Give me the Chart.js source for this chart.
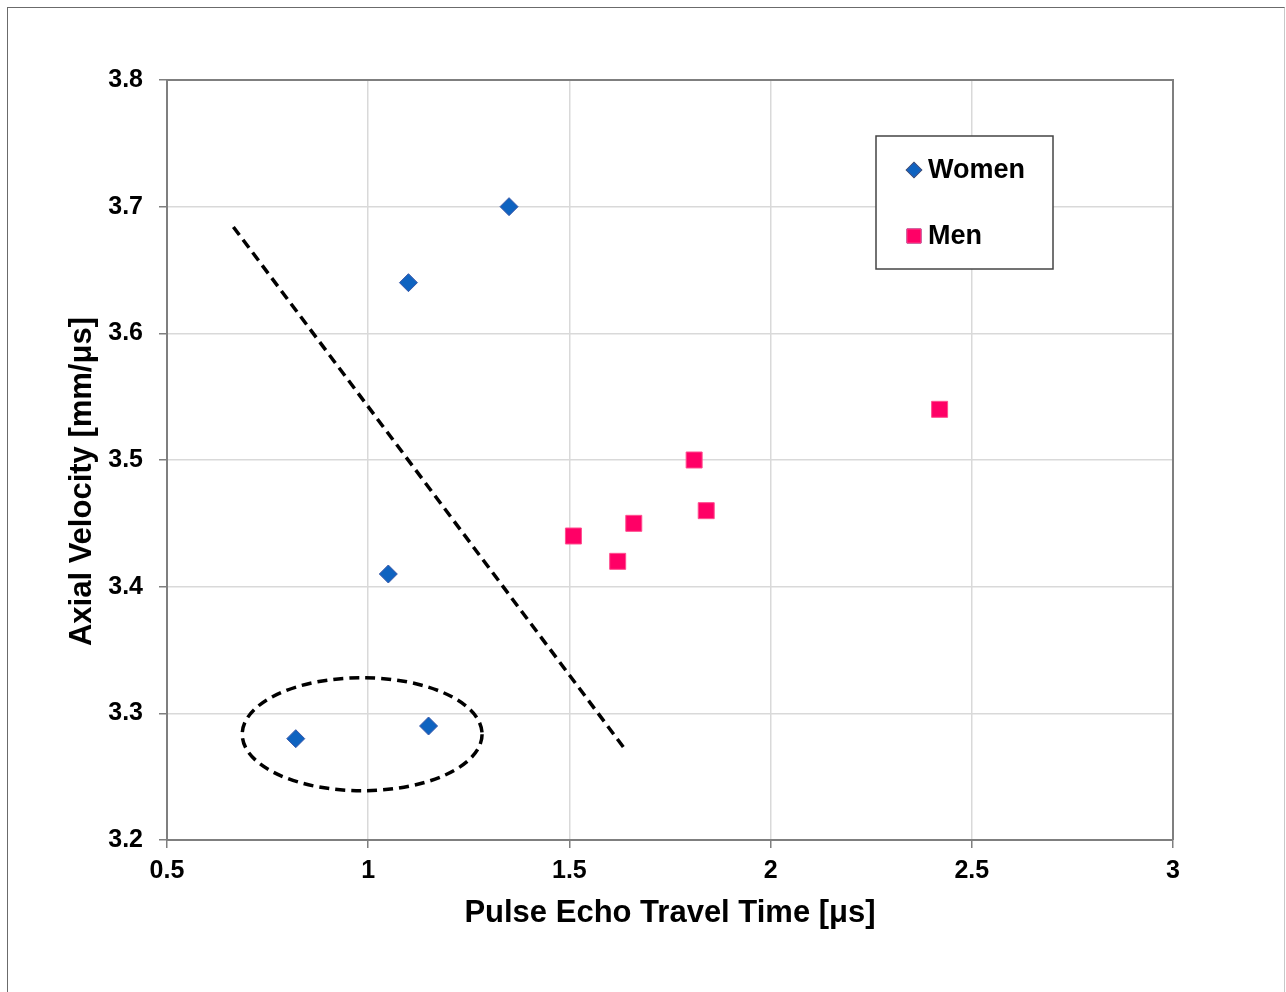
<!DOCTYPE html>
<html lang="en">
<head>
  <meta charset="UTF-8" />
  <title>Axial Velocity vs Pulse Echo Travel Time</title>
  <script src="https://cdn.jsdelivr.net/npm/chart.js"></script>
  <style>
    html, body {
      margin: 0;
      padding: 0;
      background: #fff;
      overflow: hidden;
    }
    #frame {
      position: absolute;
      left: 7px;
      top: 7px;
      width: 1276px;
      height: 1000px;
      border: 1.5px solid #6b6b6b;
      border-right-color: #c8c8c8;
    }
    #wrap {
      position: absolute;
      left: 0;
      top: 0;
      width: 1286px;
      height: 992px;
    }
  </style>
</head>
<body>
  <div id="frame"></div>
  <div id="wrap">
    <canvas id="scatterChart" width="1286" height="992"></canvas>
  </div>

  <script>
    // values
    const womenX = [0.82, 1.05, 1.10, 1.15, 1.35];
    const womenY = [3.28, 3.41, 3.64, 3.29, 3.70];
    const menX = [1.51, 1.62, 1.66, 1.81, 1.84, 2.42];
    const menY = [3.44, 3.42, 3.45, 3.50, 3.46, 3.54];

    // dashed separating line (two end points)
    const dividerX = [0.665, 1.635];
    const dividerY = [3.684, 3.273];

    // dashed ellipse round the two low women points: centre x, centre y, radius x, radius y
    const ellipse = [0.985, 3.2835, 0.298, 0.0446];

    const xTicks = ['0.5', '1', '1.5', '2', '2.5', '3'];
    const yTicks = ['3.2', '3.3', '3.4', '3.5', '3.6', '3.7', '3.8'];

    const seriesNames = ['Women', 'Men'];
    const womenColor = '#0f63c0';
    const menColor = '#ff0066';

    const FONT = '"Liberation Sans", Arial, sans-serif';

    const toPoints = (xs, ys) => xs.map((x, i) => ({ x: x, y: ys[i] }));

    // ellipse, plot border and legend box
    const extras = {
      id: 'extras',
      afterDatasetsDraw(chart) {
        const { ctx, chartArea, scales } = chart;
        const xs = scales.x, ys = scales.y;

        ctx.save();
        // ellipse
        const cx = xs.getPixelForValue(ellipse[0]);
        const cy = ys.getPixelForValue(ellipse[1]);
        const rx = Math.abs(xs.getPixelForValue(ellipse[0] + ellipse[2]) - cx);
        const ry = Math.abs(ys.getPixelForValue(ellipse[1] + ellipse[3]) - cy);
        ctx.beginPath();
        ctx.ellipse(cx, cy, rx, ry, 0, 0, Math.PI * 2);
        ctx.setLineDash([10, 6]);
        ctx.lineWidth = 3.5;
        ctx.strokeStyle = '#000';
        ctx.stroke();
        ctx.setLineDash([]);

        // top and right border of the plot area
        ctx.beginPath();
        ctx.moveTo(chartArea.left, chartArea.top);
        ctx.lineTo(chartArea.right, chartArea.top);
        ctx.lineTo(chartArea.right, chartArea.bottom);
        ctx.lineWidth = 2;
        ctx.strokeStyle = '#7f7f7f';
        ctx.stroke();

        // legend box
        const bx = 876, by = 136, bw = 177, bh = 133;
        ctx.fillStyle = '#fff';
        ctx.fillRect(bx, by, bw, bh);
        ctx.lineWidth = 1.5;
        ctx.strokeStyle = '#444';
        ctx.strokeRect(bx, by, bw, bh);

        const rows = [170, 236];
        const ds = chart.data.datasets;
        ctx.font = 'bold 27px ' + FONT;
        ctx.textBaseline = 'middle';
        ctx.textAlign = 'left';
        for (let i = 0; i < 2; i++) {
          Chart.helpers.drawPoint(ctx, {
            pointStyle: ds[i].pointStyle,
            radius: i === 0 ? 7.5 : 10,
            borderWidth: 1
          }, 914, rows[i]);
          ctx.fillStyle = ds[i].backgroundColor;
          ctx.strokeStyle = ds[i].borderColor;
          ctx.lineWidth = 1;
          ctx.fill();
          ctx.stroke();
          ctx.fillStyle = '#000';
          ctx.fillText(seriesNames[i], 928, rows[i] + 1);
        }
        ctx.restore();
      }
    };

    const ctx = document.getElementById('scatterChart').getContext('2d');
    new Chart(ctx, {
      type: 'scatter',
      data: {
        datasets: [
          {
            label: seriesNames[0],
            data: toPoints(womenX, womenY),
            pointStyle: 'rectRot',
            pointRadius: 9,
            backgroundColor: womenColor,
            borderColor: '#3a58a8',
            borderWidth: 1,
            order: 1
          },
          {
            label: seriesNames[1],
            data: toPoints(menX, menY),
            pointStyle: 'rect',
            pointRadius: 11.3,
            backgroundColor: menColor,
            borderColor: '#ff4d8f',
            borderWidth: 1,
            order: 2
          },
          {
            type: 'line',
            label: 'divider',
            data: toPoints(dividerX, dividerY),
            borderColor: '#000',
            borderWidth: 3.5,
            borderDash: [10, 6],
            pointRadius: 0,
            fill: false,
            order: 3
          }
        ]
      },
      options: {
        responsive: false,
        animation: false,
        layout: {
          padding: { top: 80, right: 113, left: 0, bottom: 0 }
        },
        plugins: {
          legend: { display: false },
          tooltip: { enabled: false }
        },
        scales: {
          x: {
            type: 'linear',
            min: 0.5,
            max: 3,
            afterBuildTicks: (scale) => {
              scale.ticks = xTicks.map(t => ({ value: parseFloat(t) }));
            },
            afterFit: (scale) => { scale.height = 152; },
            ticks: {
              callback: (v, i) => xTicks[i],
              color: '#000',
              padding: 8,
              maxRotation: 0,
              font: { family: FONT, size: 25, weight: 'bold' }
            },
            grid: {
              color: '#d9d9d9',
              lineWidth: 1.5,
              tickColor: '#7f7f7f',
              tickLength: 8
            },
            border: { color: '#7f7f7f', width: 2 },
            title: {
              display: true,
              text: 'Pulse Echo Travel Time [\u03bcs]',
              color: '#000',
              padding: { top: 0, bottom: 60 },
              font: { family: FONT, size: 31, weight: 'bold' }
            }
          },
          y: {
            type: 'linear',
            min: 3.2,
            max: 3.8,
            afterBuildTicks: (scale) => {
              scale.ticks = yTicks.map(t => ({ value: parseFloat(t) }));
            },
            afterFit: (scale) => { scale.width = 167; },
            ticks: {
              callback: (v, i) => yTicks[i],
              color: '#000',
              padding: 16,
              font: { family: FONT, size: 25, weight: 'bold' }
            },
            grid: {
              color: '#d9d9d9',
              lineWidth: 1.5,
              tickColor: '#7f7f7f',
              tickLength: 8
            },
            border: { color: '#7f7f7f', width: 2 },
            title: {
              display: true,
              // trailing spaces nudge the title down, as in the original
              text: 'Axial Velocity [mm/\u03bcs]     ',
              color: '#000',
              padding: { top: 64, bottom: 0 },
              font: { family: FONT, size: 31, weight: 'bold' }
            }
          }
        }
      },
      plugins: [extras]
    });
  </script>
</body>
</html>
